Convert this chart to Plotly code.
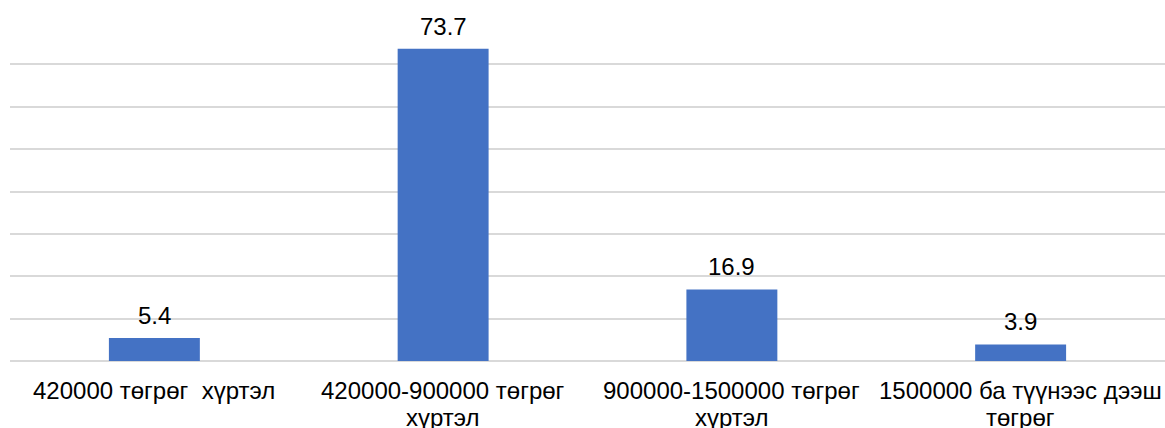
import plotly.graph_objects as go

categories = [
    "420000 төгрөг  хүртэл",
    "420000-900000 төгрөг\nхүртэл",
    "900000-1500000 төгрөг\nхүртэл",
    "1500000 ба түүнээс дээш\nтөгрөг",
]
values = [5.4, 73.7, 16.9, 3.9]

bar_color = "#4472C4"
grid_color = "#D9D9D9"
font_family = "Liberation Sans, Arial, sans-serif"
font_size = 24

x_pos = list(range(len(categories)))

fig = go.Figure(
    go.Bar(
        x=x_pos,
        y=values,
        marker=dict(color=bar_color, line=dict(width=0)),
        hoverinfo="skip",
    )
)

# value labels above each bar
for xi, v in zip(x_pos, values):
    fig.add_annotation(
        x=xi, y=v, xref="x", yref="y",
        text=f"{v:.1f}",
        showarrow=False,
        yanchor="bottom",
        yshift=7,
        font=dict(family=font_family, size=font_size, color="#000000"),
    )

# category labels under the axis, one annotation per line for tight spacing
line_step = 27
for xi, label in zip(x_pos, categories):
    for li, line in enumerate(label.split("\n")):
        fig.add_annotation(
            x=xi, y=0, xref="x", yref="paper",
            text=line,
            showarrow=False,
            yanchor="top",
            yshift=-15 - li * line_step,
            borderpad=0,
            font=dict(family=font_family, size=font_size, color="#000000"),
        )

fig.update_layout(
    width=1165,
    height=428,
    margin=dict(l=10, r=0, t=22, b=67),
    paper_bgcolor="white",
    plot_bgcolor="white",
    bargap=0.685,
    showlegend=False,
    font=dict(family=font_family, size=font_size, color="#000000"),
)

fig.update_xaxes(
    range=[-0.5, len(categories) - 0.5],
    showgrid=False,
    showline=False,
    zeroline=False,
    ticks="",
    showticklabels=False,
)

fig.update_yaxes(
    range=[0, 80],
    dtick=10,
    showgrid=True,
    gridcolor=grid_color,
    gridwidth=2,
    zeroline=True,
    zerolinecolor=grid_color,
    zerolinewidth=2,
    showticklabels=False,
    showline=False,
    ticks="",
)

fig.write_html("out.html")
